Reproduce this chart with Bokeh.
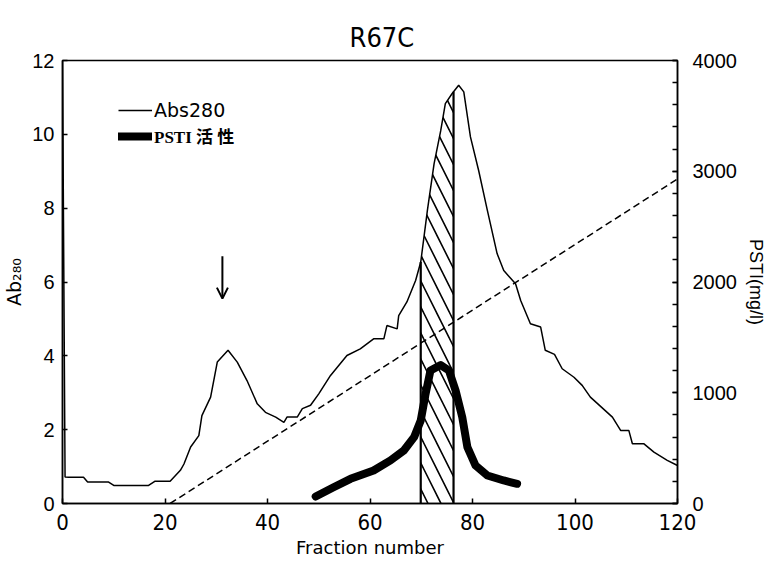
import numpy as np
from bokeh.plotting import figure
from bokeh.models import (Range1d, LinearAxis, Legend, LegendItem, Arrow, OpenHead,
                          FixedTicker)
from bokeh.embed import file_html
from bokeh.resources import INLINE

# ---------------- data ----------------
fraction_abs = [0, 0.5, 1.2, 4.1, 4.9, 9.0, 10.0, 16.8, 18.0, 21.0,
                23.0, 23.7, 25.0, 26.6, 27.2, 28.9, 30.2, 32.3, 34.1, 36.0,
                38.0, 39.6, 41.6, 43.2, 43.8, 45.8, 46.8, 48.4, 50.0, 52.3,
                53.9, 55.5, 58.1, 60.7, 62.7, 63.3, 65.3, 65.6, 67.2, 68.9,
                69.9, 71.2, 72.5, 73.8, 74.7, 76.0, 77.3, 78.3, 79.6, 81.2,
                82.9, 84.8, 86.1, 88.4, 89.4, 91.3, 93.3, 94.2, 96.0, 97.5,
                99.8, 101.4, 103.0, 107.3, 108.9, 110.5, 111.2, 113.4, 115.4, 118.0,
                120.0]
abs280 = [12.0, 0.72, 0.71, 0.71, 0.58, 0.58, 0.49, 0.49, 0.6, 0.6,
          0.9, 1.07, 1.53, 1.84, 2.38, 2.88, 3.83, 4.15, 3.83, 3.33,
          2.7, 2.47, 2.34, 2.2, 2.34, 2.34, 2.57, 2.66, 2.97, 3.47,
          3.74, 4.01, 4.19, 4.46, 4.46, 4.82, 4.73, 5.09, 5.46, 6.04,
          6.54, 7.94, 9.2, 10.1, 10.83, 11.1, 11.33, 11.15, 9.93, 9.02,
          7.94, 6.77, 6.31, 5.95, 5.5, 4.87, 4.78, 4.15, 4.04, 3.65,
          3.42, 3.2, 2.88, 2.34, 1.98, 1.98, 1.62, 1.62, 1.39, 1.17,
          1.03]

fraction_psti = [49.4, 52.9, 56.2, 60.7, 64.0, 66.6, 68.6, 69.9, 70.8, 71.8,
                 73.8, 75.4, 76.7, 78.0, 79.0, 80.6, 82.9, 86.1, 88.7]
psti_activity = [63, 147, 223, 298, 389, 479, 599, 750, 980, 1201,
                 1250, 1201, 1021, 780, 509, 343, 253, 208, 178]

gradient_fraction = [21, 120]
gradient_psti = [0, 2930]

pooled_start, pooled_end = 69.9, 76.3
arrow_fraction, arrow_top, arrow_bottom = 31.2, 6.7, 5.55

x_ticks = [0, 20, 40, 60, 80, 100, 120]
left_ticks = [0, 2, 4, 6, 8, 10, 12]
right_ticks = [0, 1000, 2000, 3000, 4000]
right_minor = list(range(0, 4001, 200))

NARROW = "'DejaVu Sans Condensed', 'Liberation Sans Narrow', Roboto"

# ---------------- figure ----------------
p = figure(frame_width=615, frame_height=443,
           x_range=Range1d(0, 120), y_range=Range1d(0, 12),
           output_backend="svg", toolbar_location=None,
           min_border_left=53, min_border_right=10,
           min_border_top=60, min_border_bottom=40,
           title="R67C", x_axis_location=None, y_axis_location=None)
p.extra_y_ranges = {"psti": Range1d(0, 4000)}
p.xgrid.visible = False
p.ygrid.visible = False
p.outline_line_color = "black"
p.outline_line_width = 1.5
p.background_fill_color = "white"
p.border_fill_color = "white"

p.title.text_font = NARROW
p.title.text_font_size = "27px"
p.title.text_font_style = "normal"
p.title.text_color = "black"
p.title.align = "left"
p.title.offset = 287
p.title.standoff = 16

def style_axis(ax, size):
    ax.axis_line_color = "black"
    ax.axis_line_width = 1.5
    ax.major_tick_in = 5
    ax.major_tick_out = 0
    ax.major_tick_line_width = 1.5
    ax.minor_tick_in = 0
    ax.minor_tick_out = 0
    ax.major_label_text_font_size = size
    ax.major_label_text_color = "black"
    ax.axis_label_text_font_style = "normal"
    ax.axis_label_text_color = "black"

xaxis = LinearAxis(ticker=FixedTicker(ticks=x_ticks), axis_label="Fraction number")
style_axis(xaxis, "22px")
xaxis.major_label_text_font = NARROW
xaxis.major_label_standoff = 10
xaxis.axis_label_standoff = 4
xaxis.axis_label_text_font = "DejaVu Sans"
xaxis.axis_label_text_font_size = "18px"
p.add_layout(xaxis, "below")

yaxis = LinearAxis(ticker=FixedTicker(ticks=left_ticks), axis_label="Ab₂₈₀")
style_axis(yaxis, "20px")
yaxis.major_label_text_font = "Liberation Sans"
yaxis.major_label_standoff = 8
yaxis.axis_label_standoff = 4
yaxis.axis_label_text_font = "DejaVu Sans"
yaxis.axis_label_text_font_size = "19px"
p.add_layout(yaxis, "left")

raxis = LinearAxis(y_range_name="psti",
                   ticker=FixedTicker(ticks=right_ticks, minor_ticks=right_minor),
                   axis_label="PSTI(mg/l)")
style_axis(raxis, "20px")
raxis.minor_tick_in = 5
raxis.minor_tick_line_width = 1.5
raxis.major_label_text_font = "Liberation Sans"
raxis.major_label_standoff = 15
raxis.axis_label_standoff = 6
raxis.axis_label_text_font = "Liberation Sans"
raxis.axis_label_text_font_size = "18px"
p.add_layout(raxis, "right")

# ---------------- pooled (hatched) fractions ----------------
fa = np.array(fraction_abs, dtype=float)
aa = np.array(abs280, dtype=float)
inside = (fa > pooled_start) & (fa < pooled_end)
hx = np.concatenate([[pooled_start], fa[inside], [pooled_end]])
hy = np.concatenate([[np.interp(pooled_start, fa, aa)], aa[inside],
                     [np.interp(pooled_end, fa, aa)]])
p.varea(x=hx, y1=np.zeros_like(hx), y2=hy, fill_alpha=0,
        hatch_pattern="\\", hatch_color="black", hatch_weight=1.6, hatch_scale=26)
p.segment(x0=[pooled_start, pooled_end], y0=[0, 0],
          x1=[pooled_start, pooled_end], y1=[hy[0], hy[-1]],
          line_color="black", line_width=2.2)

# ---------------- series ----------------
r_grad = p.line(gradient_fraction, gradient_psti, y_range_name="psti",
                line_color="black", line_width=1.5, line_dash="7 4")
r_abs = p.line(fraction_abs, abs280, line_color="black", line_width=1.5)
r_psti = p.line(fraction_psti, psti_activity, y_range_name="psti",
                line_color="black", line_width=8, line_cap="round", line_join="round")

p.add_layout(Arrow(end=OpenHead(size=11, line_width=2, line_color="black"),
                   x_start=arrow_fraction, y_start=arrow_top,
                   x_end=arrow_fraction, y_end=arrow_bottom,
                   line_width=2, line_color="black"))

# ---------------- legends ----------------
def make_legend(label, renderer, loc, font, size, style):
    lg = Legend(items=[LegendItem(label=label, renderers=[renderer])], location=loc,
                orientation="vertical", padding=0, margin=0, spacing=0,
                glyph_width=34, glyph_height=22, label_height=22, label_standoff=2,
                border_line_color=None, background_fill_alpha=0)
    lg.label_text_font = font
    lg.label_text_font_size = size
    lg.label_text_font_style = style
    lg.label_text_color = "black"
    return lg

p.add_layout(make_legend("Abs280", r_abs, (56, 382), "DejaVu Sans", "19px", "normal"))
p.add_layout(make_legend("PSTI 活 性", r_psti, (56, 355),
                         "'Liberation Serif', 'Noto Sans CJK JP'", "17px", "bold"))

open("out.html", "w").write(file_html(p, INLINE))
